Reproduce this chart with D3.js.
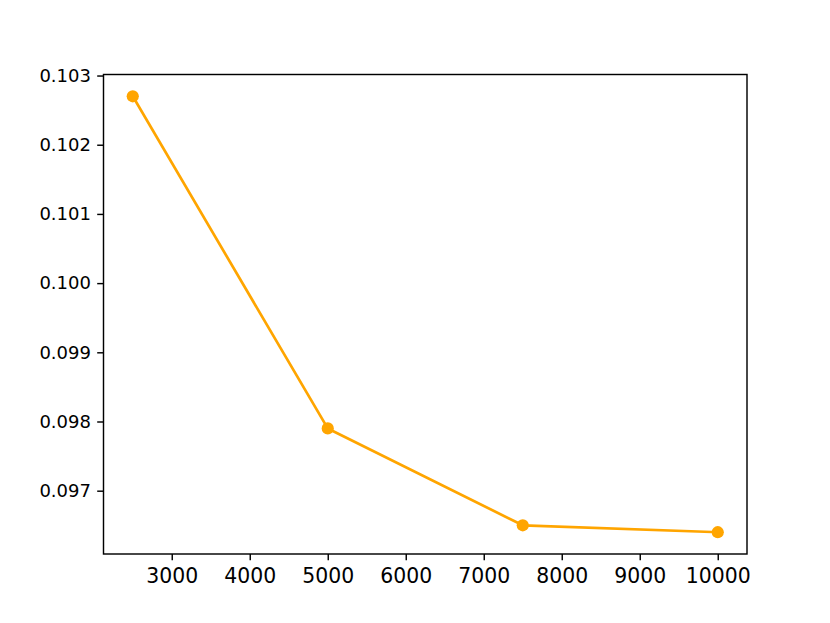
<!DOCTYPE html>
<html>
<head>
<meta charset="utf-8">
<script src="https://cdn.jsdelivr.net/npm/d3@7"></script>
<style>
  body { margin: 0; background: #fff; }
  text { font-family: "DejaVu Sans", sans-serif; }
</style>
</head>
<body>
<svg id="chart" width="830" height="623"></svg>
<script>
const sampleSizes = [2500, 5000, 7500, 10000];
const errorValues = [0.1027, 0.0979, 0.0965, 0.0964];
const xTicks = [3000, 4000, 5000, 6000, 7000, 8000, 9000, 10000];
const yTicks = [0.097, 0.098, 0.099, 0.100, 0.101, 0.102, 0.103];

const width = 830, height = 623;
const margin = { top: 74.5, right: 83, bottom: 69, left: 103.5 };
const dpi = 830 / 6.4;
const pt = (v) => v * dpi / 72;

const svg = d3.select('#chart');

// matplotlib-style 5% margins
const xPad = (d3.max(sampleSizes) - d3.min(sampleSizes)) * 0.05;
const yPad = (d3.max(errorValues) - d3.min(errorValues)) * 0.05;

const x = d3.scaleLinear()
  .domain([d3.min(sampleSizes) - xPad, d3.max(sampleSizes) + xPad])
  .range([margin.left, width - margin.right]);
const y = d3.scaleLinear()
  .domain([d3.min(errorValues) - yPad, d3.max(errorValues) + yPad])
  .range([height - margin.bottom, margin.top]);

const tickLen = pt(3.5);
const tickPad = pt(3.5);

// 1. x axis
const xAxis = svg.append('g')
  .attr('transform', `translate(0,${height - margin.bottom})`)
  .call(d3.axisBottom(x).tickValues(xTicks).tickFormat(d3.format('d'))
    .tickSize(tickLen).tickPadding(tickPad));

// 2. y axis
const yAxis = svg.append('g')
  .attr('transform', `translate(${margin.left},0)`)
  .call(d3.axisLeft(y).tickValues(yTicks).tickFormat(d3.format('.3f'))
    .tickSize(tickLen).tickPadding(tickPad));

[xAxis, yAxis].forEach((g) => {
  g.select('.domain').remove();
  g.selectAll('.tick line').attr('stroke', '#000').attr('stroke-width', pt(0.8));
  g.selectAll('.tick text').attr('fill', '#000')
    .style('font-family', '"DejaVu Sans", sans-serif');
});
xAxis.selectAll('.tick text').style('font-size', '20.4px').attr('dy', '16.4px');
yAxis.selectAll('.tick text').style('font-size', '18px');

// 3. line + markers
const line = d3.line()
  .x((d, i) => x(sampleSizes[i]))
  .y((d) => y(d));

svg.append('path')
  .datum(errorValues)
  .attr('fill', 'none')
  .attr('stroke', 'orange')
  .attr('stroke-width', pt(1.5))
  .attr('stroke-linejoin', 'round')
  .attr('stroke-linecap', 'square')
  .attr('d', line);

svg.append('g')
  .selectAll('circle')
  .data(errorValues)
  .enter()
  .append('circle')
  .attr('cx', (d, i) => x(sampleSizes[i]))
  .attr('cy', (d) => y(d))
  .attr('r', 6.1)
  .attr('fill', 'orange');

// 4. axes frame
svg.append('rect')
  .attr('x', margin.left)
  .attr('y', margin.top)
  .attr('width', width - margin.left - margin.right)
  .attr('height', height - margin.top - margin.bottom)
  .attr('fill', 'none')
  .attr('stroke', '#000')
  .attr('stroke-width', pt(0.8));
</script>
</body>
</html>
